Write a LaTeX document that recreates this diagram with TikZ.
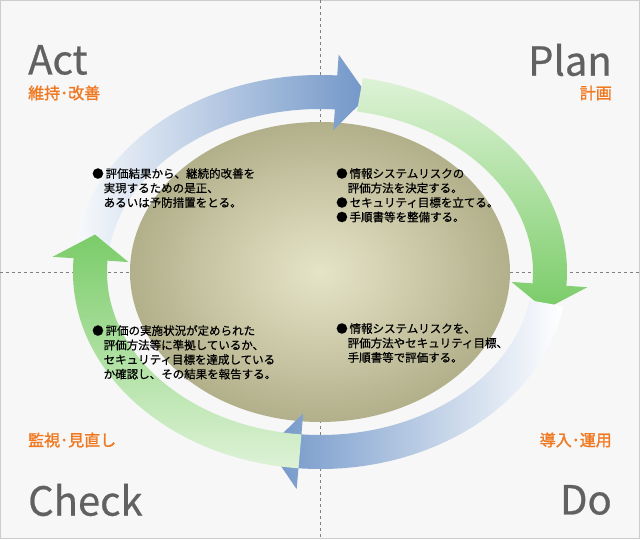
\documentclass[tikz,border=0pt]{standalone}
\usepackage{fontspec}
\setmainfont{Noto Sans CJK JP}
\newfontfamily\jpb{Noto Sans CJK JP}[FakeBold=1.5]
\newfontfamily\jpm{Noto Sans CJK JP}[FakeBold=0.6]
\definecolor{steel}{HTML}{7196C8}
\definecolor{leaf}{HTML}{7ACC68}
\definecolor{lightleaf}{HTML}{DDF2D6}
\definecolor{olivee}{HTML}{B2B08A}
\definecolor{olivec}{HTML}{E6E4C8}
\definecolor{orng}{HTML}{F07820}
\begin{document}
\begin{tikzpicture}[x=1pt,y=1pt,
  big/.style={font=\jpm\fontsize{40}{40}\selectfont, text=black!62, inner sep=0pt},
  sub/.style={font=\jpb\fontsize{16}{16}\selectfont, text=orng, inner sep=0pt},
  body/.style={font=\jpm\fontsize{11.5}{14.5}\selectfont, align=left, anchor=north west, inner sep=0pt},
  guide/.style={draw=black!50, dashed, line width=0.6pt}]
\useasboundingbox (-320,-267) rectangle (320,272);
\fill[black!3] (-320,-267) rectangle (320,272);
\draw[black!20] (-319.5,-266.5) rectangle (319.5,271.5);
\draw[guide] (0,272) -- (0,-267);
\draw[guide] (-320,0) -- (320,0);
\shade[inner color=olivec, outer color=olivee] (0,0) ellipse [x radius=190, y radius=150];
\newcommand\arrowring[4]{%
  \shade[#4] (#1:247 and 197) arc[start angle=#1, end angle=#2, x radius=247, y radius=197]
   -- (#2:268 and 218) -- (#3:230 and 180) -- (#2:192 and 142) -- (#2:213 and 163)
   arc[start angle=#2, end angle=#1, x radius=213, y radius=163] -- cycle;}
\arrowring{195}{86}{78}{left color=white, right color=steel}
\arrowring{80}{-4}{-12}{shading angle=60, top color=lightleaf, bottom color=leaf}
\arrowring{-10}{-95}{-103}{left color=steel, right color=white}
\arrowring{265}{176}{168}{shading angle=-60, top color=leaf, bottom color=lightleaf}
\node[big, anchor=west] (act) at (-292,212) {Act};
\node[sub, anchor=west] (acts) at (-292,179) {維持･改善};
\node[big, anchor=east] (plan) at (292,212) {Plan};
\node[sub, anchor=east] (plans) at (292,179) {計画};
\node[sub, anchor=west] (chks) at (-292,-168) {監視･見直し};
\node[big, anchor=west] (chk) at (-292,-228) {Check};
\node[sub, anchor=east] (dos) at (292,-168) {導入･運用};
\node[big, anchor=east] (do) at (292,-228) {Do};
\node[body] (ta) at (-228,104) {●\,評価結果から、継続的改善を\\\hspace{1em}実現するための是正、\\\hspace{1em}あるいは予防措置をとる。};
\node[body] (tp) at (16,104) {●\,情報システムリスクの\\\hspace{1em}評価方法を決定する。\\●\,セキュリティ目標を立てる。\\●\,手順書等を整備する。};
\node[body] (tc) at (-228,-53) {●\,評価の実施状況が定められた\\\hspace{1em}評価方法等に準拠しているか、\\\hspace{1em}セキュリティ目標を達成している\\\hspace{1em}か確認し、その結果を報告する。};
\node[body] (td) at (16,-51) {●\,情報システムリスクを、\\\hspace{1em}評価方法やセキュリティ目標、\\\hspace{1em}手順書等で評価する。};
\end{tikzpicture}
\end{document}
